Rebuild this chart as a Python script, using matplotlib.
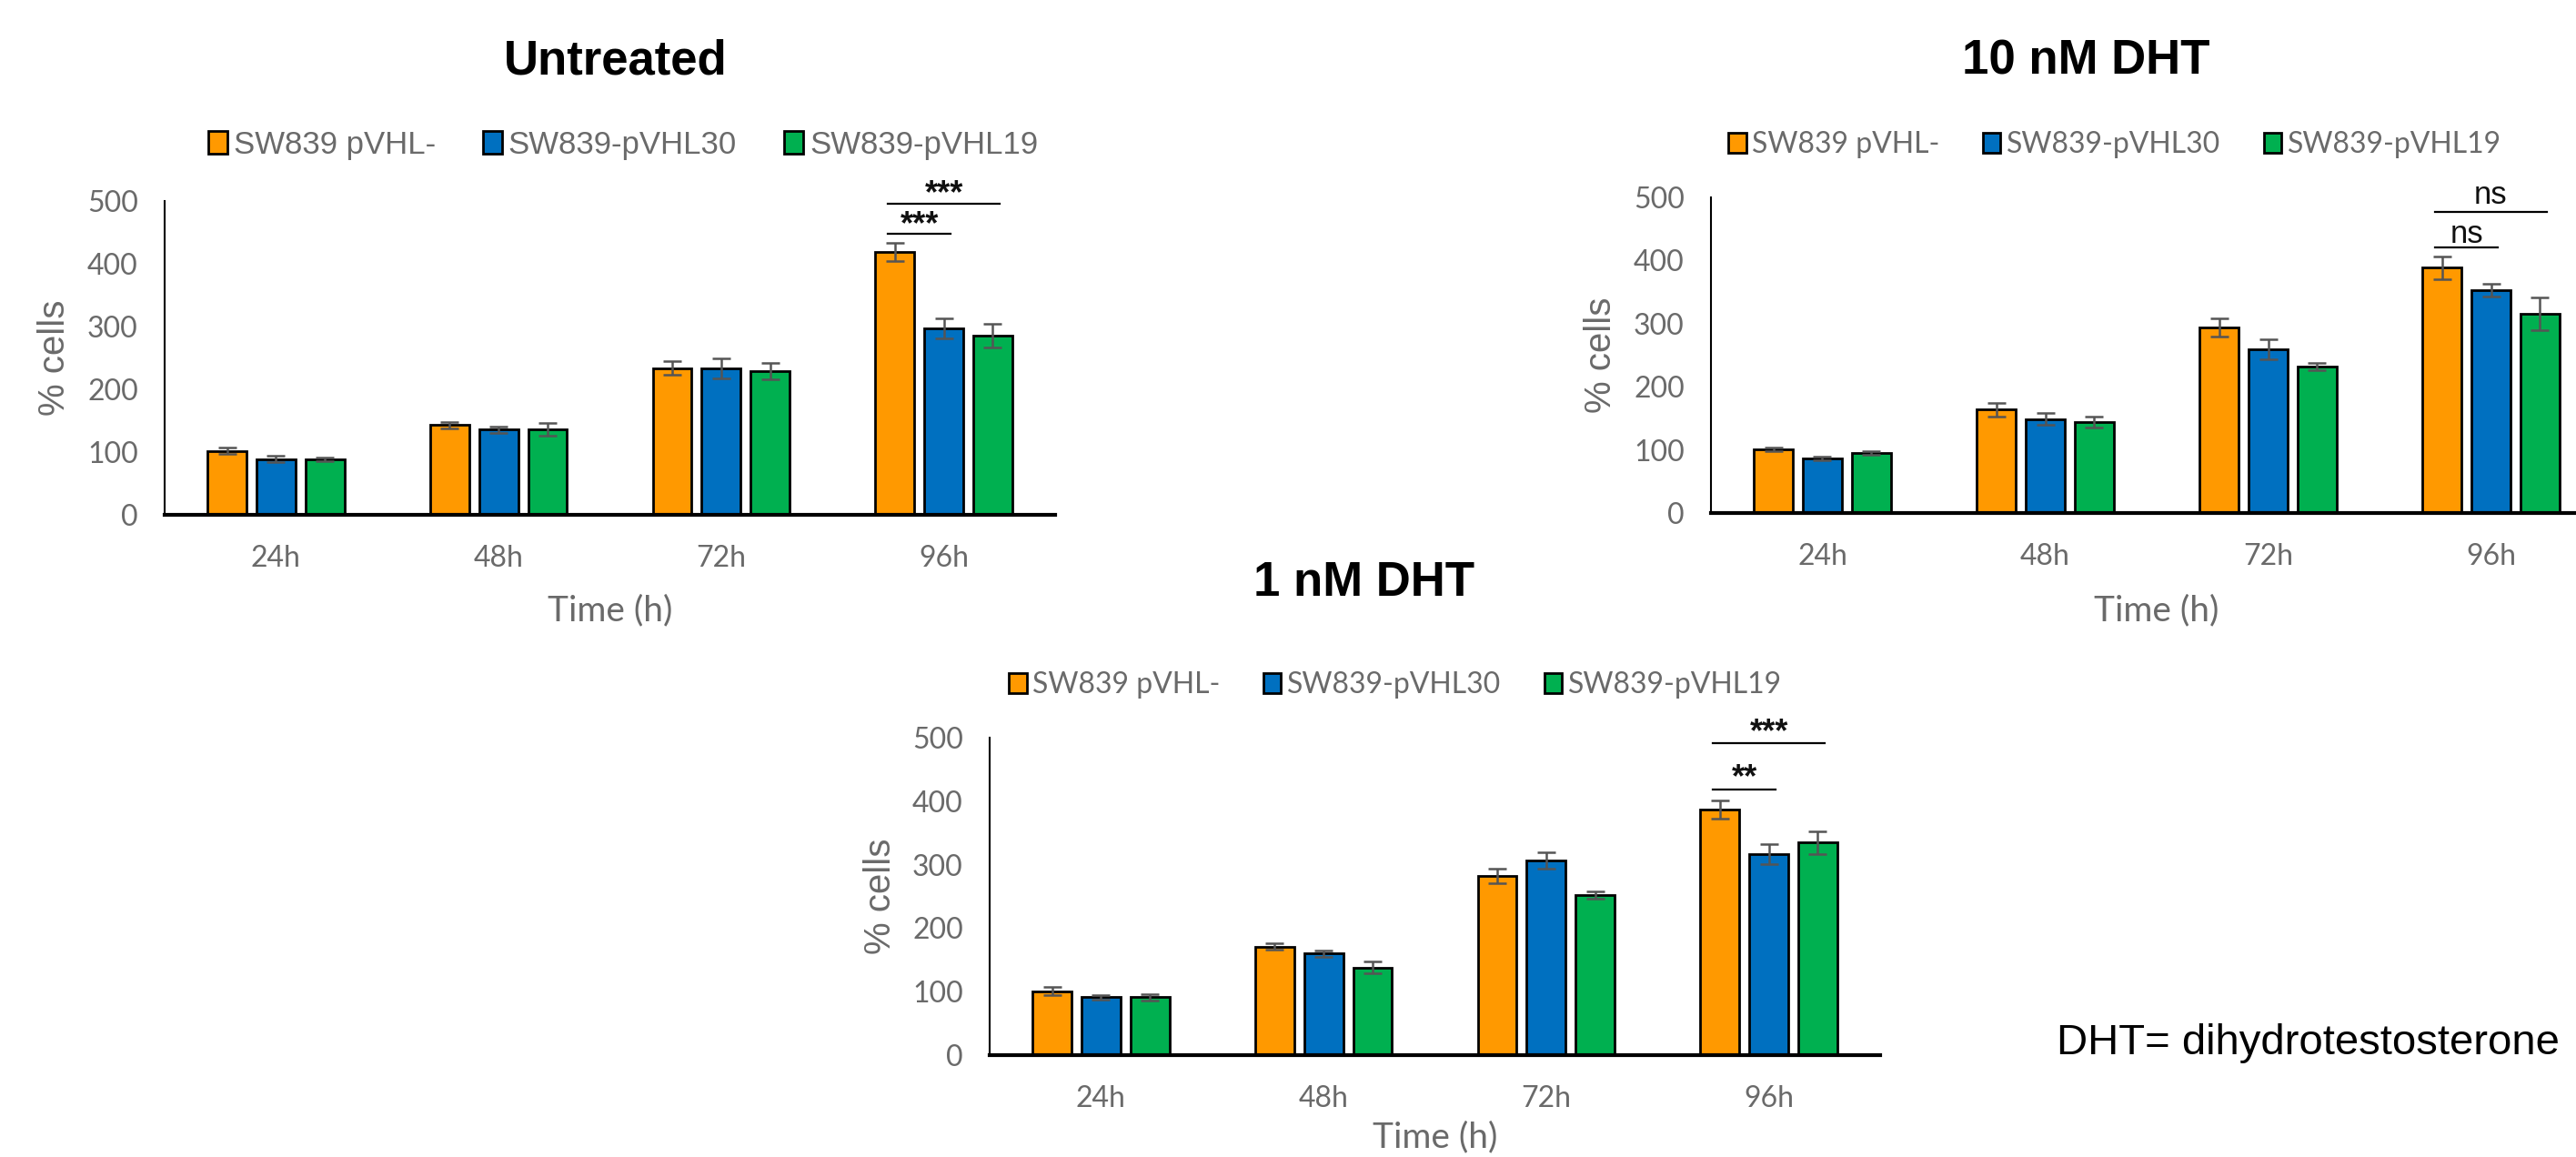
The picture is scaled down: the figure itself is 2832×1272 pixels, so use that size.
import matplotlib
matplotlib.use('Agg')
import numpy as np
import matplotlib.pyplot as plt
from matplotlib.patches import Patch

W, H = 2832, 1272

# categories / series
times = ['24h', '48h', '72h', '96h']
series = ['SW839 pVHL-', 'SW839-pVHL30', 'SW839-pVHL19']
colors = ['#FF9900', '#0070C0', '#00B050']

# Untreated
unt_pvhl = [102, 143, 234, 419]
unt_pvhl30 = [89, 136, 234, 297]
unt_pvhl19 = [88, 136, 229, 286]
unt_pvhl_err = [5, 5, 11, 14]
unt_pvhl30_err = [5, 5, 16, 16]
unt_pvhl19_err = [3, 10, 13, 19]

# 10 nM DHT
d10_pvhl = [101, 164, 294, 389]
d10_pvhl30 = [87, 149, 259, 353]
d10_pvhl19 = [95, 144, 232, 316]
d10_pvhl_err = [3, 11, 14, 18]
d10_pvhl30_err = [3, 9, 16, 10]
d10_pvhl19_err = [3, 9, 6, 26]

# 1 nM DHT
d1_pvhl = [101, 171, 282, 387]
d1_pvhl30 = [91, 160, 307, 317]
d1_pvhl19 = [91, 138, 252, 335]
d1_pvhl_err = [6, 5, 11, 14]
d1_pvhl30_err = [4, 5, 13, 16]
d1_pvhl19_err = [5, 9, 6, 18]

# significance brackets: (label, y level, series from, series to, text y)
unt_sig = [('***', 448, 0, 1, 462), ('***', 495, 0, 2, 510)]
d10_sig = [('ns', 421, 0, 1, 442), ('ns', 477, 0, 2, 504)]
d1_sig = [('**', 418, 0, 1, 436), ('***', 492, 0, 2, 508)]

GRAY = '#6A6A6A'
TICKFONT = ['Lato', 'DejaVu Sans']
ARIAL = ['Liberation Sans', 'DejaVu Sans']

fig = plt.figure(figsize=(W / 100, H / 100), dpi=100)
fig.patch.set_facecolor('white')


def px_ax(left, right, y0, y500):
    return fig.add_axes([left / W, 1 - y0 / H, (right - left) / W, (y0 - y500) / H])


def panel(ax, vals, errs, sig, title, title_xy, leg_xy, leg_font, leg_size,
          xlab_y, ylab_x, star_size, star_weight):
    x = np.arange(len(times))
    offs = [-0.22, 0.0, 0.22]
    for v, e, c, o, lab in zip(vals, errs, colors, offs, series):
        ax.bar(x + o, v, width=0.175, color=c, edgecolor='black', linewidth=2.0,
               label=lab, zorder=2)
        ax.errorbar(x + o, v, yerr=e, fmt='none', ecolor='#555555', elinewidth=1.8,
                    capsize=7, capthick=1.8, zorder=3)
    ax.set_xlim(-0.5, 3.5)
    ax.set_ylim(0, 500)
    ax.set_yticks([0, 100, 200, 300, 400, 500])
    ax.set_xticks(x)
    ax.set_xticklabels(times)
    ax.tick_params(axis='both', length=0, labelsize=23, labelcolor=GRAY)
    ax.tick_params(axis='y', pad=21)
    ax.tick_params(axis='x', pad=24)
    for t in ax.get_xticklabels() + ax.get_yticklabels():
        t.set_fontfamily(TICKFONT)
    for s in ['top', 'right']:
        ax.spines[s].set_visible(False)
    ax.spines['left'].set_linewidth(1.5)
    ax.spines['bottom'].set_linewidth(3)
    ax.spines['bottom'].set_zorder(4)
    ax.set_facecolor('none')

    for lab, yl, a, b, yt in sig:
        xa = 3 + offs[a] - 0.03
        xb = 3 + offs[b] + 0.03
        ax.plot([xa, xb], [yl, yl], color='black', lw=1.6, clip_on=False)
        ax.text((xa + xb) / 2, yt, lab, ha='center', va='center',
                fontsize=star_size, fontweight=star_weight, color='#111111',
                family=ARIAL, clip_on=False)

    fig.text(title_xy[0] / W, 1 - title_xy[1] / H, title, ha='center', va='center',
             fontsize=38, fontweight='bold', family=ARIAL)
    bb = ax.get_position()
    fig.text(bb.x0 + 0.5 * (980 / W), 1 - xlab_y / H, 'Time (h)', ha='center',
             va='center', fontsize=28, color=GRAY, family=TICKFONT)
    fig.text(ylab_x / W, bb.y0 + bb.height / 2, '% cells', ha='center', va='center',
             rotation=90, fontsize=29, color=GRAY, family=ARIAL)

    handles = [Patch(facecolor=c, edgecolor='black', linewidth=2.0) for c in colors]
    leg = ax.legend(handles, series, loc='center', ncol=3,
                    bbox_to_anchor=(leg_xy[0] / W, 1 - leg_xy[1] / H),
                    bbox_transform=fig.transFigure, frameon=False,
                    handlelength=0.6, handleheight=0.7, handletextpad=0.2,
                    columnspacing=1.5, prop={'family': leg_font, 'size': leg_size})
    for t in leg.get_texts():
        t.set_color(GRAY)


ax1 = px_ax(181, 1160, 566, 221)
panel(ax1, [unt_pvhl, unt_pvhl30, unt_pvhl19],
      [unt_pvhl_err, unt_pvhl30_err, unt_pvhl19_err], unt_sig,
      'Untreated', (677, 67), (685, 159), ARIAL, 25, 671, 60, 26, 'bold')

ax2 = px_ax(1881, 2861, 564, 217)
panel(ax2, [d10_pvhl, d10_pvhl30, d10_pvhl19],
      [d10_pvhl_err, d10_pvhl30_err, d10_pvhl19_err], d10_sig,
      '10 nM DHT', (2293, 67), (2325, 159), TICKFONT, 23, 671, 1760, 25, 'normal')

ax3 = px_ax(1088, 2067, 1160, 811)
panel(ax3, [d1_pvhl, d1_pvhl30, d1_pvhl19],
      [d1_pvhl_err, d1_pvhl30_err, d1_pvhl19_err], d1_sig,
      '1 nM DHT', (1500, 641), (1534, 753), TICKFONT, 23, 1250, 968, 26, 'bold')

fig.text(2261 / W, 1 - 1147 / H, 'DHT= dihydrotestosterone', ha='left', va='center',
         fontsize=34, family=ARIAL)

fig.savefig('out.png', dpi=100, facecolor='white')
